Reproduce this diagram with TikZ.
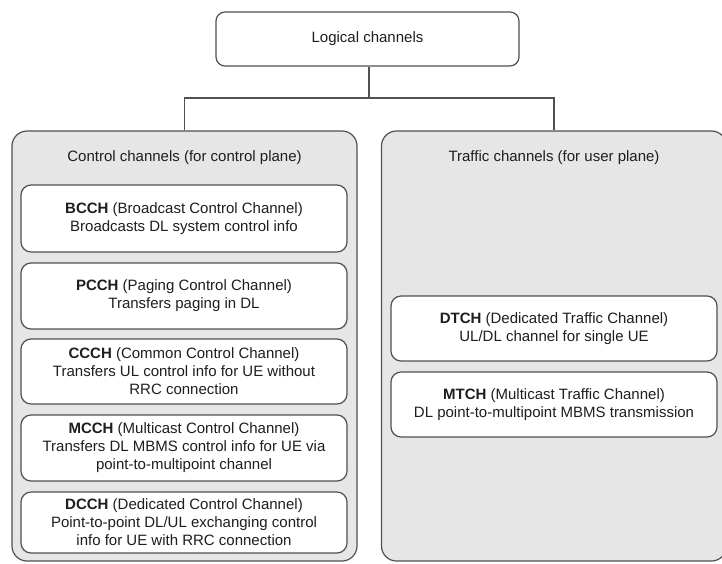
\documentclass[tikz,border=0pt]{standalone}
\usepackage{fontspec}
\setmainfont{Liberation Sans}
\definecolor{edge}{HTML}{505050}
\definecolor{panelfill}{HTML}{E6E6E6}
\definecolor{ink}{HTML}{1E1E1E}
\begin{document}
\begin{tikzpicture}[x=1pt,y=-1pt,
  every node/.style={font=\fontsize{15}{18}\selectfont, text=ink, align=center, inner sep=0pt},
  rootbox/.style={draw=edge, line width=1.2pt, fill=white, rounded corners=9pt,
                  minimum width=303pt, minimum height=54pt},
  panel/.style={draw=edge, line width=1.2pt, fill=panelfill, rounded corners=15pt,
                minimum width=345pt, minimum height=430pt},
  chanbox/.style={draw=edge, line width=1.2pt, fill=white, rounded corners=10pt,
                  minimum width=326pt},
  link/.style={draw=edge, line width=1.2pt}]
  \useasboundingbox (0,0) rectangle (722,563);
  \clip (0,0) rectangle (722,563);

  % root of the tree
  \node[rootbox] (logical) at (367.5,39) {Logical channels};

  % the two groups of channels
  \node[panel] (ctrl) at (184.5,346) {};
  \node[panel] (traf) at (554,346) {};
  \node (ctrltitle) at (184.5,158) {Control channels (for control plane)};
  \node (traftitle) at (554,158) {Traffic channels (for user plane)};

  % tree connectors
  \coordinate (split) at (369,98);
  \draw[link] (logical.south -| split) -- (split);
  \draw[link] (ctrl.north) |- (split) -| (traf.north);

  % control channels
  \node[chanbox, minimum height=67pt] (bcch) at (184,218.5)
    {\textbf{BCCH} (Broadcast Control Channel)\\Broadcasts DL system control info};
  \node[chanbox, minimum height=66pt] (pcch) at (184,296)
    {\textbf{PCCH} (Paging Control Channel)\\Transfers paging in DL};
  \node[chanbox, minimum height=65pt] (ccch) at (184,371.5)
    {\textbf{CCCH} (Common Control Channel)\\Transfers UL control info for UE without\\RRC connection};
  \node[chanbox, minimum height=66pt] (mcch) at (184,448)
    {\textbf{MCCH} (Multicast Control Channel)\\Transfers DL MBMS control info for UE via\\point-to-multipoint channel};
  \node[chanbox, minimum height=61pt] (dcch) at (184,522.5)
    {\textbf{DCCH} (Dedicated Control Channel)\\Point-to-point DL/UL exchanging control\\info for UE with RRC connection};

  % traffic channels
  \node[chanbox, minimum height=65pt] (dtch) at (554,328.5)
    {\textbf{DTCH} (Dedicated Traffic Channel)\\UL/DL channel for single UE};
  \node[chanbox, minimum height=65pt] (mtch) at (554,404.5)
    {\textbf{MTCH} (Multicast Traffic Channel)\\DL point-to-multipoint MBMS transmission};
\end{tikzpicture}
\end{document}
